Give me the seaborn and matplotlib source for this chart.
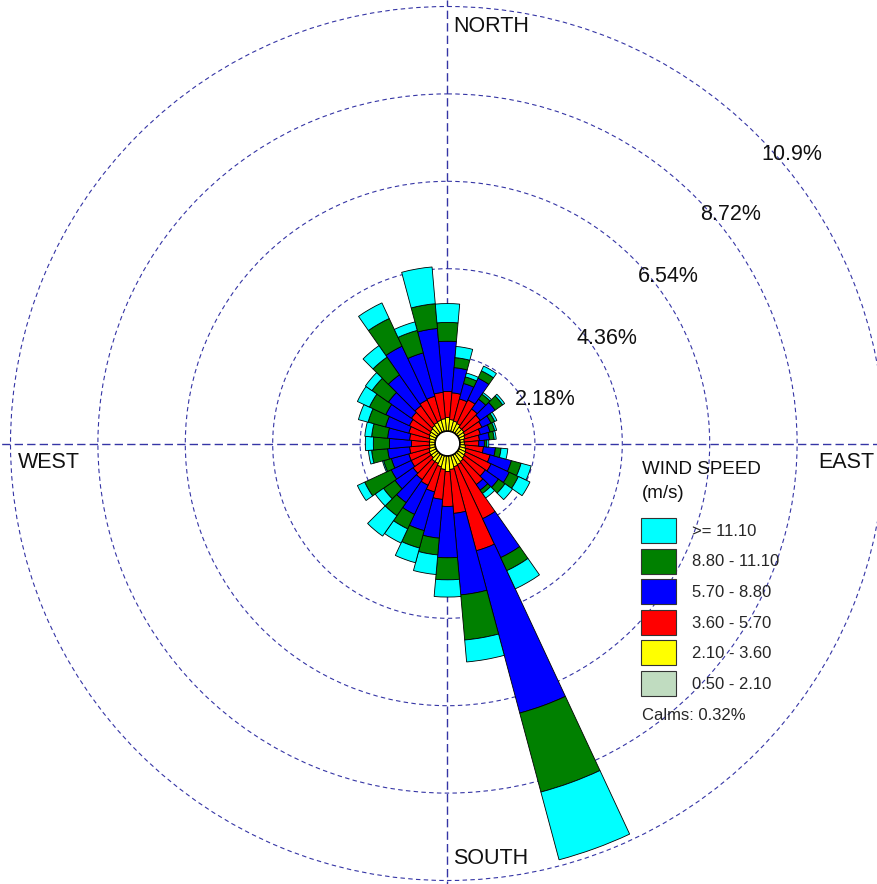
import numpy as np
import pandas as pd
import seaborn as sns
import matplotlib
matplotlib.use("Agg")
import matplotlib.pyplot as plt

# wind directions (deg, clockwise from north), 10 degree sectors
directions = [0, 10, 20, 30, 40, 50, 60, 70, 80, 90, 100, 110,
              120, 130, 140, 150, 160, 170, 180, 190, 200, 210, 220, 230,
              240, 250, 260, 270, 280, 290, 300, 310, 320, 330, 340, 350]

# frequency (%) per speed class and direction
ws_050_210 = [0.02, 0.02, 0.02, 0.02, 0.02, 0.02, 0.02, 0.02, 0.02, 0.02, 0.02, 0.02,
              0.02, 0.02, 0.02, 0.02, 0.02, 0.02, 0.02, 0.02, 0.02, 0.02, 0.02, 0.02,
              0.02, 0.02, 0.02, 0.02, 0.02, 0.02, 0.02, 0.02, 0.02, 0.02, 0.02, 0.02]
ws_210_360 = [0.33, 0.28, 0.26, 0.23, 0.18, 0.18, 0.16, 0.13, 0.10, 0.10, 0.13, 0.16,
              0.18, 0.20, 0.23, 0.26, 0.28, 0.33, 0.38, 0.33, 0.28, 0.23, 0.23, 0.18,
              0.18, 0.16, 0.13, 0.13, 0.13, 0.16, 0.18, 0.20, 0.23, 0.26, 0.28, 0.30]
ws_360_570 = [0.65, 0.67, 0.57, 0.65, 0.55, 0.50, 0.47, 0.40, 0.38, 0.36, 0.45, 0.62,
              0.70, 0.63, 0.70, 1.49, 2.17, 1.10, 0.87, 0.75, 0.65, 0.60, 0.55, 0.55,
              0.50, 0.52, 0.50, 0.45, 0.50, 0.52, 0.55, 0.58, 0.60, 0.62, 0.62, 0.66]
ws_570_880 = [1.25, 0.63, 0.40, 0.60, 0.30, 0.45, 0.25, 0.25, 0.25, 0.14, 0.30, 0.55,
              0.50, 0.40, 0.17, 1.07, 4.19, 2.04, 1.28, 0.97, 1.00, 0.80, 0.70, 0.55,
              0.55, 0.45, 0.55, 0.55, 0.55, 0.60, 0.65, 0.70, 0.94, 1.48, 1.12, 1.60]
ws_880_1110 = [0.47, 0.25, 0.17, 0.20, 0.15, 0.23, 0.10, 0.12, 0.12, 0.06, 0.14, 0.25,
               0.25, 0.20, 0.10, 0.36, 2.04, 1.13, 0.55, 0.42, 0.45, 0.40, 0.40, 0.35,
               0.73, 0.20, 0.40, 0.40, 0.40, 0.45, 0.45, 0.50, 0.54, 0.76, 0.58, 0.62]
ws_1110_up = [0.47, 0.28, 0.10, 0.13, 0.05, 0.06, 0.06, 0.05, 0.05, 0.05, 0.17, 0.26,
              0.32, 0.23, 0.14, 0.50, 1.75, 0.55, 0.43, 0.49, 0.38, 0.39, 0.62, 0.25,
              0.20, 0.03, 0.08, 0.20, 0.17, 0.25, 0.33, 0.20, 0.35, 0.43, 0.22, 0.92]

speed_labels = ["0.50 - 2.10", "2.10 - 3.60", "3.60 - 5.70",
                "5.70 - 8.80", "8.80 - 11.10", ">= 11.10"]
speed_colors = ["#C0DCC0", "#FFFF00", "#FF0000", "#0000FF", "#008000", "#00FFFF"]

ring_values = [2.18, 4.36, 6.54, 8.72, 10.9]
ring_labels = ["2.18%", "4.36%", "6.54%", "8.72%", "10.9%"]
calms = 0.32

df = pd.DataFrame({"direction": directions,
                   speed_labels[0]: ws_050_210, speed_labels[1]: ws_210_360,
                   speed_labels[2]: ws_360_570, speed_labels[3]: ws_570_880,
                   speed_labels[4]: ws_880_1110, speed_labels[5]: ws_1110_up})

sns.set_theme(style="white")
plt.rcParams["font.family"] = ["Liberation Sans", "DejaVu Sans"]

W, H = 878, 884
cx, cy, R = 447.5, 443.5, 437.0   # centre and radius of the 10.9% ring, px
rmax = 11.2
Ra = R * rmax / 10.9
grid_col = "#3535A5"
calm_r = 0.30

fig = plt.figure(figsize=(W / 100, H / 100), dpi=100)
ax = fig.add_axes([(cx - Ra) / W, (H - cy - Ra) / H, 2 * Ra / W, 2 * Ra / H], projection="polar")
ax.set_theta_zero_location("N")
ax.set_theta_direction(-1)

theta = np.deg2rad(df["direction"].values)
bottom = np.full(len(df), calm_r)  # calm circle in the middle
for lab, col in zip(speed_labels, speed_colors):
    vals = df[lab].values
    ax.bar(theta, vals, width=np.deg2rad(10), bottom=bottom, color=col,
           edgecolor="black", linewidth=0.6, label=lab, zorder=3)
    bottom = bottom + vals

ax.set_ylim(0, rmax)
ax.set_rgrids(ring_values, labels=[""] * 5)
ax.set_thetagrids([])
ax.yaxis.grid(True, color=grid_col, linestyle=(0, (4, 3)), linewidth=0.8)
ax.xaxis.grid(False)
ax.spines["polar"].set_visible(False)
ax.set_facecolor("none")

# compass cross, behind the bars
for ang, r_end in [(0, 11.05), (90, 11.0), (180, 11.05), (270, 11.2)]:
    ax.plot([np.deg2rad(ang)] * 2, [calm_r, r_end], color=grid_col,
            linestyle=(0, (6, 3)), linewidth=1.0, zorder=1, clip_on=False)


def px(x, y):
    return x / W, 1 - y / H


fs = 15.5
for txt, (x, y) in zip(["NORTH", "WEST", "EAST", "SOUTH"],
                       [(453, 27), (18, 462), (818, 462), (453, 858)]):
    fig.text(*px(x, y), txt, ha="left", va="center", fontsize=fs, color="#111111")

for txt, (x, y) in zip(ring_labels, [(515, 400), (577, 339), (638, 277), (700, 215), (761, 155)]):
    fig.text(*px(x, y), txt, ha="left", va="center", fontsize=fs, color="#111111")

# legend
fig.text(*px(642, 470), "WIND SPEED", ha="left", va="center", fontsize=13.5, color="#111111")
fig.text(*px(642, 493), "(m/s)", ha="left", va="center", fontsize=13.5, color="#111111")
handles, labels = ax.get_legend_handles_labels()
leg = fig.legend(handles[::-1], labels[::-1], loc="upper left", bbox_to_anchor=px(641, 518),
                 frameon=False, fontsize=12, borderpad=0, borderaxespad=0,
                 handlelength=2.1, handleheight=1.95, handletextpad=0.95, labelspacing=0.32)
for p in leg.get_patches():
    p.set_edgecolor("#333333")
    p.set_linewidth(0.8)

fig.text(*px(642, 715), f"Calms: {calms:.2f}%", ha="left", va="center", fontsize=12)

fig.savefig("out.png", dpi=100, facecolor="white")
